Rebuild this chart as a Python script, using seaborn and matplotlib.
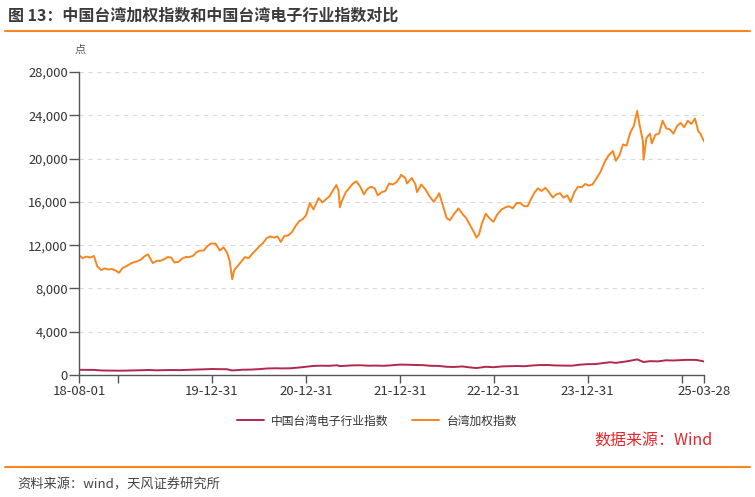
import pandas as pd
import matplotlib.pyplot as plt
import matplotlib.ticker as mticker
import seaborn as sns

# 台湾加权指数
taiex_dates = [
    "2018-08-01", "2018-08-15", "2018-08-31", "2018-09-14", "2018-09-28", "2018-10-11", "2018-10-26",
    "2018-11-09", "2018-11-23", "2018-12-07", "2018-12-21",
    "2019-01-04", "2019-01-18", "2019-02-01", "2019-02-22", "2019-03-15", "2019-03-29", "2019-04-12",
    "2019-04-26", "2019-05-15", "2019-05-31", "2019-06-14", "2019-06-28", "2019-07-12", "2019-07-26",
    "2019-08-07", "2019-08-23", "2019-09-06", "2019-09-20", "2019-10-04", "2019-10-18", "2019-11-01",
    "2019-11-15", "2019-11-29", "2019-12-13", "2019-12-27",
    "2020-01-14", "2020-01-31", "2020-02-14", "2020-02-28", "2020-03-09", "2020-03-19", "2020-03-27",
    "2020-04-10", "2020-04-24", "2020-05-08", "2020-05-22", "2020-06-05", "2020-06-19", "2020-07-03",
    "2020-07-17", "2020-07-31", "2020-08-14", "2020-08-28", "2020-09-11", "2020-09-24", "2020-10-08",
    "2020-10-23", "2020-11-06", "2020-11-20", "2020-12-04", "2020-12-18", "2020-12-31",
    "2021-01-15", "2021-01-29", "2021-02-18", "2021-03-05", "2021-03-19", "2021-04-01", "2021-04-16",
    "2021-04-28", "2021-05-06", "2021-05-12", "2021-05-20", "2021-06-04", "2021-06-18", "2021-07-02",
    "2021-07-15", "2021-07-30", "2021-08-13", "2021-08-27", "2021-09-10", "2021-09-24", "2021-10-06",
    "2021-10-22", "2021-11-05", "2021-11-19", "2021-12-03", "2021-12-17", "2021-12-31",
    "2022-01-05", "2022-01-21", "2022-01-28", "2022-02-15", "2022-03-01", "2022-03-08", "2022-03-24",
    "2022-04-08", "2022-04-26", "2022-05-12", "2022-05-27", "2022-06-02", "2022-06-17", "2022-07-01",
    "2022-07-14", "2022-07-29", "2022-08-16", "2022-08-31", "2022-09-15", "2022-09-29", "2022-10-13",
    "2022-10-25", "2022-11-04", "2022-11-15", "2022-11-30", "2022-12-14", "2022-12-30",
    "2023-01-13", "2023-01-31", "2023-02-15", "2023-03-01", "2023-03-15", "2023-03-31", "2023-04-14",
    "2023-04-28", "2023-05-12", "2023-05-26", "2023-06-09", "2023-06-21", "2023-07-05", "2023-07-20",
    "2023-08-03", "2023-08-18", "2023-09-01", "2023-09-15", "2023-09-28", "2023-10-13", "2023-10-26",
    "2023-11-10", "2023-11-24", "2023-12-08", "2023-12-22",
    "2024-01-05", "2024-01-19", "2024-02-02", "2024-02-20", "2024-03-08", "2024-03-22", "2024-04-08",
    "2024-04-19", "2024-05-03", "2024-05-17", "2024-05-31", "2024-06-14", "2024-06-28", "2024-07-11",
    "2024-07-19", "2024-07-26", "2024-08-02", "2024-08-05", "2024-08-16", "2024-08-30", "2024-09-06",
    "2024-09-20", "2024-10-04", "2024-10-18", "2024-11-01", "2024-11-15", "2024-11-29", "2024-12-13",
    "2024-12-27",
    "2025-01-10", "2025-01-24", "2025-02-07", "2025-02-21", "2025-03-06", "2025-03-14", "2025-03-28",
]
taiex_values = [
    11070, 10800, 10950, 10850, 11000, 10050, 9700,
    9850, 9750, 9800, 9650,
    9450, 9900, 10050, 10350, 10500, 10650, 10950,
    11150, 10350, 10550, 10550, 10700, 10900, 10850,
    10400, 10450, 10750, 10900, 10900, 11000, 11350,
    11500, 11500, 11900, 12150,
    12150, 11500, 11800, 11300, 10550, 8850, 9700,
    10100, 10500, 10900, 10800, 11200, 11550, 11900,
    12200, 12650, 12800, 12700, 12800, 12300, 12850,
    12900, 13200, 13750, 14200, 14400, 14750,
    15900, 15300, 16350, 15950, 16250, 16500, 17100,
    17550, 17100, 15500, 16100, 16900, 17300, 17700,
    17900, 17400, 16700, 17200, 17400, 17250, 16600,
    16900, 17000, 17700, 17600, 17800, 18250,
    18500, 18200, 17700, 18200, 17650, 16900, 17600,
    17200, 16500, 16000, 16550, 16800, 15600, 14500,
    14300, 14850, 15400, 14900, 14500, 13900, 13300,
    12700, 13000, 14000, 14900, 14500, 14150,
    14800, 15300, 15500, 15600, 15400, 15900, 15900,
    15600, 15600, 16300, 16900, 17250, 17000, 17300,
    16900, 16400, 16700, 16800, 16400, 16600, 16000,
    16900, 17400, 17350, 17650,
    17500, 17600, 18100, 18800, 19750, 20300, 20700,
    19800, 20300, 21300, 21200, 22400, 23000, 24400,
    23300, 22500, 21650, 19900, 21900, 22300, 21400,
    22200, 22300, 23500, 22800, 22700, 22300, 23000,
    23300,
    22900, 23500, 23200, 23700, 22500, 22300, 21600,
]

# 中国台湾电子行业指数 (month ends)
elec_dates = [
    "2018-08-01", "2018-08-31", "2018-09-28", "2018-10-31", "2018-11-30", "2018-12-28",
    "2019-01-31", "2019-02-27", "2019-03-29", "2019-04-30", "2019-05-31", "2019-06-28",
    "2019-07-31", "2019-08-30", "2019-09-30", "2019-10-31", "2019-11-29", "2019-12-31",
    "2020-01-31", "2020-02-27", "2020-03-19", "2020-04-30", "2020-05-29", "2020-06-30",
    "2020-07-31", "2020-08-31", "2020-09-30", "2020-10-30", "2020-11-30", "2020-12-31",
    "2021-01-29", "2021-02-26", "2021-03-31", "2021-04-30", "2021-05-12", "2021-06-30",
    "2021-07-30", "2021-08-31", "2021-09-30", "2021-10-29", "2021-11-30", "2021-12-30",
    "2022-01-26", "2022-02-25", "2022-03-31", "2022-04-29", "2022-05-31", "2022-06-30",
    "2022-07-29", "2022-08-31", "2022-09-30", "2022-10-25", "2022-11-30", "2022-12-30",
    "2023-01-31", "2023-02-24", "2023-03-31", "2023-04-28", "2023-05-31", "2023-06-30",
    "2023-07-31", "2023-08-31", "2023-09-28", "2023-10-31", "2023-11-30", "2023-12-29",
    "2024-01-31", "2024-02-29", "2024-03-29", "2024-04-19", "2024-05-31", "2024-06-28",
    "2024-07-11", "2024-08-05", "2024-08-30", "2024-09-30", "2024-10-31", "2024-11-29",
    "2024-12-31", "2025-01-22", "2025-02-27", "2025-03-28",
]
elec_values = [
    480, 475, 470, 415, 410, 400,
    405, 425, 440, 465, 430, 450,
    460, 450, 480, 505, 525, 555,
    540, 535, 420, 490, 500, 540,
    600, 620, 610, 620, 680, 760,
    840, 860, 850, 900, 820, 890,
    900, 860, 870, 850, 900, 960,
    950, 930, 910, 850, 840, 760,
    740, 790, 700, 640, 760, 720,
    790, 810, 830, 810, 880, 920,
    920, 880, 870, 860, 950, 1000,
    1010, 1100, 1180, 1120, 1260, 1380,
    1440, 1200, 1280, 1260, 1360, 1340,
    1380, 1400, 1390, 1250,
]

x_tick_dates = ["2018-08-01", "2018-12-31", "2019-12-31", "2020-12-31", "2021-12-31",
                "2022-12-31", "2023-12-31", "2024-12-31", "2025-03-28"]
x_tick_labels = ["18-08-01", "", "19-12-31", "20-12-31", "21-12-31",
                 "22-12-31", "23-12-31", "", "25-03-28"]
y_ticks = [0, 4000, 8000, 12000, 16000, 20000, 24000, 28000]

name_elec = "中国台湾电子行业指数"
name_taiex = "台湾加权指数"

df = pd.concat([
    pd.DataFrame({"date": pd.to_datetime(elec_dates), "value": elec_values, "series": name_elec}),
    pd.DataFrame({"date": pd.to_datetime(taiex_dates), "value": taiex_values, "series": name_taiex}),
], ignore_index=True)

sns.set_style("white")
plt.rcParams["font.family"] = ["Noto Sans CJK SC", "DejaVu Sans"]

orange = "#F7861F"
red = "#B2284C"
text_c = "#333333"

fig = plt.figure(figsize=(7.55, 4.97), dpi=100)
ax = fig.add_axes([79 / 755, 1 - 375 / 497, (704 - 79) / 755, (375 - 72) / 497])

sns.lineplot(data=df, x="date", y="value", hue="series", ax=ax,
             palette={name_elec: red, name_taiex: orange}, linewidth=1.4,
             hue_order=[name_elec, name_taiex])

ax.set_xlim(pd.Timestamp("2018-08-01"), pd.Timestamp("2025-03-28"))
ax.set_ylim(0, 28000)
ax.set_yticks(y_ticks)
ax.yaxis.set_major_formatter(mticker.StrMethodFormatter("{x:,.0f}"))
ax.set_xticks(pd.to_datetime(x_tick_dates))
ax.set_xticklabels(x_tick_labels)
ax.set_xlabel("")
ax.set_ylabel("")

ax.grid(axis="y", linestyle=(0, (4, 4)), color="#d9d9d9", linewidth=0.8)
ax.grid(axis="x", visible=False)
for s in ["top", "right"]:
    ax.spines[s].set_visible(False)
for s in ["left", "bottom"]:
    ax.spines[s].set_color("#555555")
    ax.spines[s].set_linewidth(1.0)
ax.tick_params(axis="y", direction="out", length=7, width=1, color="#555555",
               labelsize=9.3, labelcolor=text_c, pad=1, left=True)
ax.tick_params(axis="x", direction="out", length=6, width=1, color="#555555",
               labelsize=9.5, labelcolor=text_c, pad=1, bottom=True)

ax.legend(loc="center", bbox_to_anchor=(377 / 755, 1 - 421 / 497),
          bbox_transform=fig.transFigure, ncol=2, frameon=False,
          fontsize=8.5, handlelength=2.3, columnspacing=2.0, handletextpad=0.6,
          labelcolor=text_c)

fig.text(80 / 755, 1 - 50 / 497, "点", ha="center", va="center", fontsize=8, color="#555555")

fig.text(8 / 755, 1 - 16 / 497, "图 13：中国台湾加权指数和中国台湾电子行业指数对比",
         ha="left", va="center", fontsize=11.5, fontweight="bold", color="#3a3a3a")
fig.add_artist(plt.Line2D([5 / 755, 750 / 755], [1 - 31 / 497, 1 - 31 / 497],
                          color=orange, linewidth=1.5, transform=fig.transFigure))

fig.text(713 / 755, 1 - 441 / 497, "数据来源：Wind", ha="right", va="center",
         fontsize=11.5, color="#E8262B")

fig.add_artist(plt.Line2D([5 / 755, 750 / 755], [1 - 467 / 497, 1 - 467 / 497],
                          color=orange, linewidth=1.5, transform=fig.transFigure))
fig.text(17 / 755, 1 - 485 / 497, "资料来源：wind，天风证券研究所", ha="left", va="center",
         fontsize=9.5, color="#444444")

fig.savefig("out.png", dpi=100)
